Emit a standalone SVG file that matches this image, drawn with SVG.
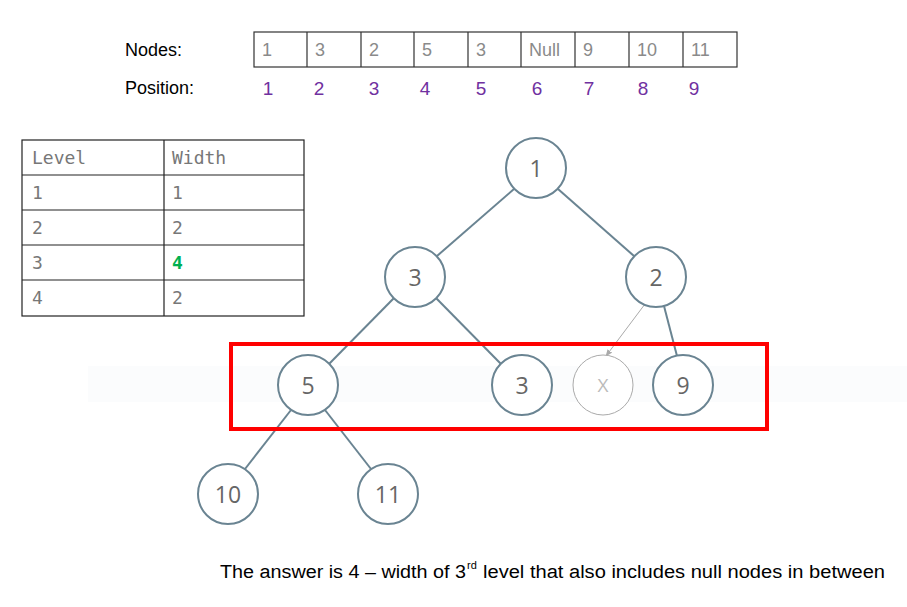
<svg xmlns="http://www.w3.org/2000/svg" width="907" height="607" viewBox="0 0 907 607">
<defs>
<style>
.lbl{font-family:"Liberation Sans",Arial,sans-serif;font-size:18px;fill:#000}
.cell{fill:none;stroke:#333;stroke-width:1.2}
.ct{font-family:"Liberation Sans",Arial,sans-serif;font-size:18px;fill:#8a8a8a}
.pos{font-family:"Liberation Sans",Arial,sans-serif;font-size:19px;fill:#7030A0;text-anchor:middle}
.tb{fill:none;stroke:#222;stroke-width:1.2}
.mono{font-family:"DejaVu Sans Mono","Liberation Mono",monospace;font-size:18px;fill:#777}
.node circle{fill:#fff;stroke:#6A8492;stroke-width:2}
.node text{font-family:"Open Sans","Liberation Sans",sans-serif;font-size:23px;fill:#666;text-anchor:middle;dominant-baseline:central}
.edge{stroke:#6A8492;stroke-width:2;fill:none}
</style>
<marker id="ah" viewBox="0 0 10 10" refX="9" refY="5" markerWidth="7" markerHeight="7" orient="auto-start-reverse">
<path d="M0,1 L10,5 L0,9 z" fill="#aaa"/>
</marker>
</defs>
<rect width="907" height="607" fill="#fff"/>
<rect x="88" y="366" width="819" height="36" fill="#fbfcfd"/>

<g id="array">
<text class="lbl" x="125" y="56">Nodes:</text>
<text class="lbl" x="125" y="94">Position:</text>
<rect class="cell" x="254" y="32" width="483" height="35"/>
<path class="cell" d="M307,32V67M361,32V67M414,32V67M468,32V67M521,32V67M575,32V67M629,32V67M683,32V67"/>
<text class="ct" x="262" y="56">1</text>
<text class="ct" x="315" y="56">3</text>
<text class="ct" x="369" y="56">2</text>
<text class="ct" x="422" y="56">5</text>
<text class="ct" x="476" y="56">3</text>
<text class="ct" x="529" y="56">Null</text>
<text class="ct" x="583" y="56">9</text>
<text class="ct" x="637" y="56">10</text>
<text class="ct" x="691" y="56">11</text>
<text class="pos" x="268" y="95">1</text>
<text class="pos" x="319" y="95">2</text>
<text class="pos" x="374" y="95">3</text>
<text class="pos" x="425" y="95">4</text>
<text class="pos" x="481" y="95">5</text>
<text class="pos" x="537" y="95">6</text>
<text class="pos" x="589" y="95">7</text>
<text class="pos" x="643" y="95">8</text>
<text class="pos" x="694" y="95">9</text>
</g>

<g id="table">
<rect class="tb" x="22" y="140" width="282" height="176"/>
<path class="tb" d="M164,140V316M22,175H304M22,210H304M22,245H304M22,280H304"/>
<text class="mono" x="32" y="164">Level</text>
<text class="mono" x="172" y="164">Width</text>
<text class="mono" x="32" y="199">1</text>
<text class="mono" x="172" y="199">1</text>
<text class="mono" x="32" y="234">2</text>
<text class="mono" x="172" y="234">2</text>
<text class="mono" x="32" y="269">3</text>
<text class="mono" x="172" y="269" style="fill:#00B050;font-weight:bold">4</text>
<text class="mono" x="32" y="304">4</text>
<text class="mono" x="172" y="304">2</text>
</g>

<g id="connectors">
<line class="edge" x1="514" y1="189" x2="437" y2="256"/>
<line class="edge" x1="558" y1="189" x2="634" y2="256"/>
<line class="edge" x1="394" y1="298" x2="329" y2="364"/>
<line class="edge" x1="436" y1="298" x2="501" y2="364"/>
<line x1="645" y1="304" x2="606" y2="356" stroke="#aaa" stroke-width="1" marker-end="url(#ah)"/>
<line class="edge" x1="664" y1="306" x2="677" y2="356"/>
<line class="edge" x1="291" y1="410" x2="245" y2="469"/>
<line class="edge" x1="325" y1="410" x2="371" y2="469"/>
</g>

<g id="n1" class="node"><circle cx="536" cy="168" r="30"/><text x="536" y="168">1</text></g>
<g id="n3" class="node"><circle cx="415" cy="277" r="30"/><text x="415" y="277">3</text></g>
<g id="n2" class="node"><circle cx="656" cy="277" r="30"/><text x="656" y="277">2</text></g>
<g id="n5" class="node"><circle cx="308" cy="385" r="30"/><text x="308" y="385">5</text></g>
<g id="n3b" class="node"><circle cx="522" cy="385" r="30"/><text x="522" y="385">3</text></g>
<g id="nx" class="node"><circle cx="603" cy="385" r="30" style="stroke:#aaa;stroke-width:1"/><text x="603" y="385" style="fill:#bbb;font-size:19px">X</text></g>
<g id="n9" class="node"><circle cx="683" cy="385" r="30"/><text x="683" y="385">9</text></g>
<g id="n10" class="node"><circle cx="228" cy="494" r="30"/><text x="228" y="494">10</text></g>
<g id="n11" class="node"><circle cx="388" cy="494" r="30"/><text x="388" y="494">11</text></g>

<rect x="231" y="344" width="536" height="85" fill="none" stroke="#ff0000" stroke-width="4"/>

<g id="caption">
<text class="lbl" x="220" y="578" textLength="246" lengthAdjust="spacingAndGlyphs">The answer is 4 – width of 3</text>
<text class="lbl" x="467" y="569" style="font-size:11px">rd</text>
<text class="lbl" x="483" y="578" textLength="402" lengthAdjust="spacingAndGlyphs">level that also includes null nodes in between</text>
</g>
</svg>
